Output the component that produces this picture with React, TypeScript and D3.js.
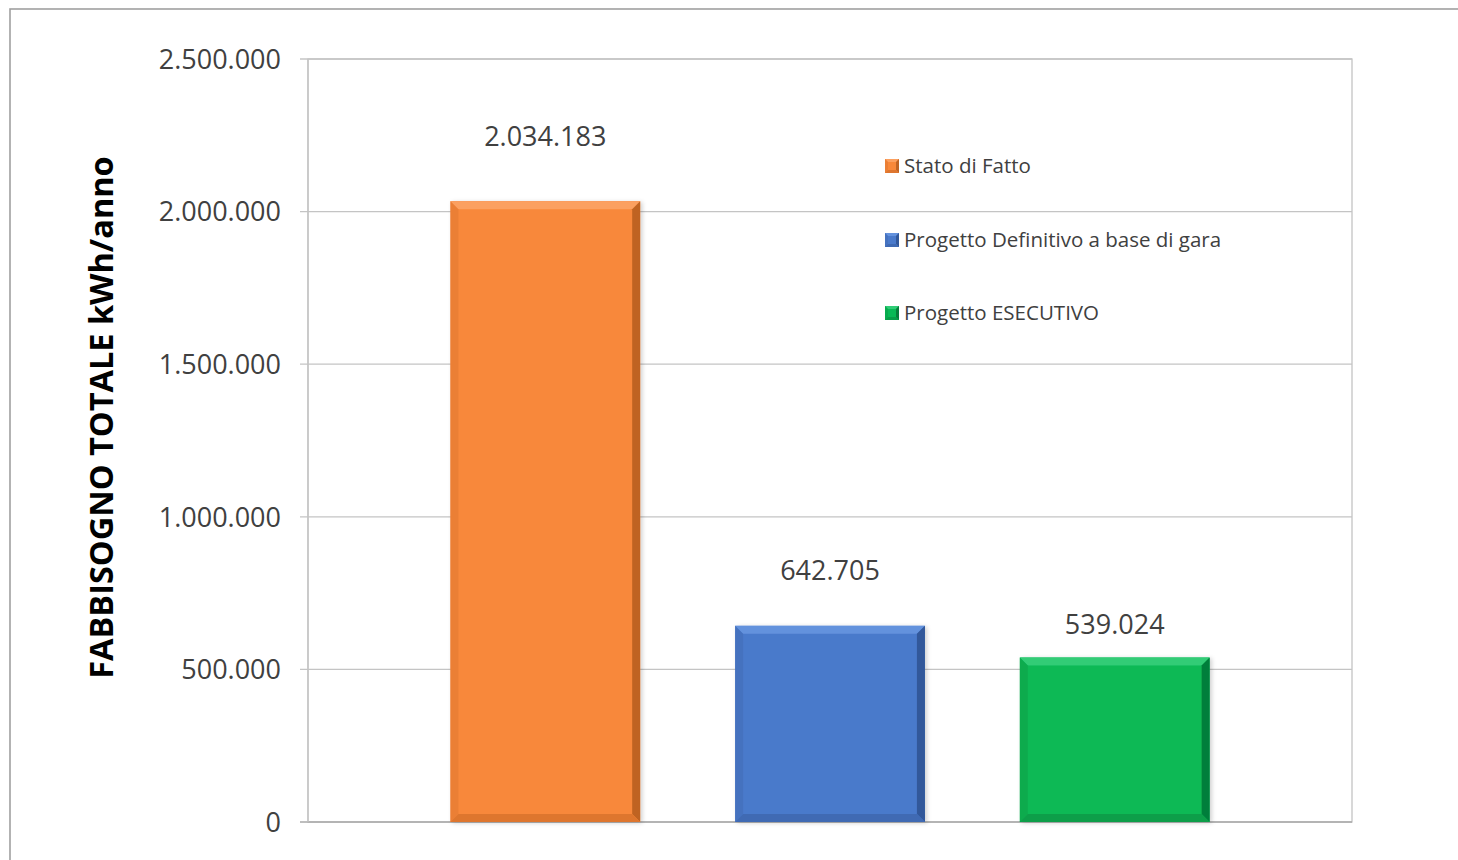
import React from "react";
import * as d3 from "d3";

const series = ["Stato di Fatto", "Progetto Definitivo a base di gara", "Progetto ESECUTIVO"];
const values = [2034183, 642705, 539024];
const yTicks = [0, 500000, 1000000, 1500000, 2000000, 2500000];
const yTitle = "FABBISOGNO TOTALE kWh/anno";

const baseColors = ["#F8883A", "#4A7ACB", "#08B955"];
const lightColors = ["#FBA060", "#6492DD", "#30CC76"];
const darkColors = ["#BF6424", "#32589A", "#067E3B"];
const bottomColors = ["#DE762F", "#3F6AB3", "#079E48"];
const labelOffsets = [55, 46, 23];

const W = 1458, H = 860;
const plot = { left: 308, right: 1352, top: 59, bottom: 822 };

const fmt = (v: number) => d3.format(",")(v).replace(/,/g, ".");

function BevelRect({ x, y, w, h, i, b }: { x: number; y: number; w: number; h: number; i: number; b: number }) {
  const x2 = x + w, y2 = y + h;
  return (
    <g>
      <rect x={x} y={y} width={w} height={h} fill={baseColors[i]} />
      <polygon points={`${x},${y} ${x2},${y} ${x2 - b},${y + b} ${x + b},${y + b}`} fill={lightColors[i]} />
      <polygon points={`${x2},${y} ${x2},${y2} ${x2 - b},${y2 - b} ${x2 - b},${y + b}`} fill={darkColors[i]} />
      <polygon points={`${x},${y2} ${x2},${y2} ${x2 - b},${y2 - b} ${x + b},${y2 - b}`} fill={bottomColors[i]} />
      <polygon points={`${x},${y} ${x + b},${y + b} ${x + b},${y2 - b} ${x},${y2}`} fill={bottomColors[i]} opacity={0.5} />
    </g>
  );
}

export default function App() {
  const y = d3.scaleLinear().domain([0, 2500000]).range([plot.bottom, plot.top]);
  const x = d3.scaleBand<string>().domain(series).range([plot.left, plot.right]).paddingInner(1 / 3).paddingOuter(0.5);
  const font = "'Open Sans', 'Liberation Sans', sans-serif";
  const legendY = [166, 240, 313];

  return (
    <svg width={W} height={H} style={{ position: "absolute", left: 0, top: 0, background: "#fff" }} fontFamily={font}>
      <defs>
        <filter id="sh" x="-10%" y="-10%" width="130%" height="130%">
          <feDropShadow dx="2" dy="1" stdDeviation="2" floodColor="#000" floodOpacity="0.18" />
        </filter>
      </defs>
      <rect x={0} y={0} width={W} height={H} fill="#fff" />
      <rect x={10} y={9} width={W + 20} height={H + 20} fill="none" stroke="#a0a0a0" strokeWidth={1.6} />
      <rect x={plot.left} y={plot.top} width={plot.right - plot.left} height={plot.bottom - plot.top} fill="none" stroke="#c4c4c4" strokeWidth={1.3} />
      {yTicks.map((t) => (
        <g key={t}>
          <line x1={300} x2={plot.right} y1={y(t)} y2={y(t)} stroke={t === 0 ? "#a8a8a8" : "#c4c4c4"} strokeWidth={1.3} />
          <text x={281} y={y(t)} dy="0.36em" textAnchor="end" fontSize={27} fill="#404040">
            {fmt(t)}
          </text>
        </g>
      ))}
      <line x1={plot.left} x2={plot.left} y1={plot.top} y2={plot.bottom} stroke="#c4c4c4" strokeWidth={1.3} />
      <text
        transform={`translate(113, ${(plot.top + plot.bottom) / 2 - 23}) rotate(-90)`}
        textAnchor="middle"
        fontSize={32.5}
        fontWeight="bold"
        fill="#000"
      >
        {yTitle}
      </text>
      {series.map((s, i) => {
        const bx = x(s)!;
        const bw = x.bandwidth();
        const by = y(values[i]);
        const bh = y(0) - by;
        return (
          <g key={s}>
            <g filter="url(#sh)">
              <BevelRect x={bx} y={by} w={bw} h={bh} i={i} b={8} />
            </g>
            <text x={bx + bw / 2} y={by - labelOffsets[i]} textAnchor="middle" fontSize={27} fill="#404040">
              {fmt(values[i])}
            </text>
          </g>
        );
      })}
      {series.map((s, i) => (
        <g key={"lg" + s}>
          <BevelRect x={885} y={legendY[i] - 7} w={14} h={14} i={i} b={3} />
          <text x={904} y={legendY[i]} dy="0.36em" fontSize={20.5} fill="#404040">
            {s}
          </text>
        </g>
      ))}
    </svg>
  );
}
